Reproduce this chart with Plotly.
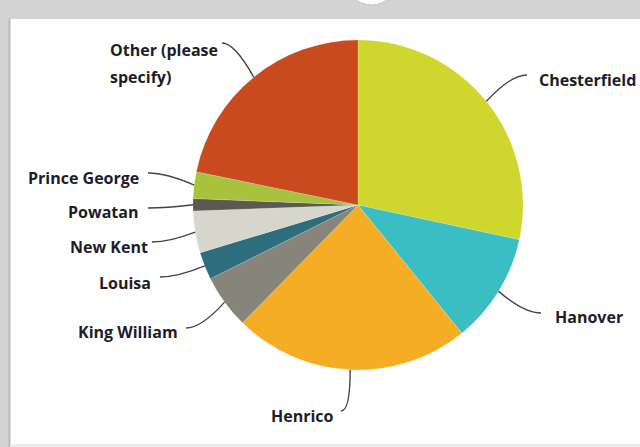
import math
import plotly.graph_objects as go

# ---- data ----
counties = ["Chesterfield", "Hanover", "Henrico", "King William", "Louisa",
            "New Kent", "Powatan", "Prince George", "Other (please specify)"]
shares = [28.4, 10.8, 23.2, 5.3, 2.7, 4.1, 1.2, 2.6, 21.8]

# ---- styles ----
colors = ["#cfd62e", "#3bbec3", "#f5ae24", "#86857a", "#2c6d7e",
          "#d7d6cc", "#5b5a50", "#a9c23e", "#ca4a20"]
W, H = 640, 447
CX, CY, R = 358, 205, 165
# label text positions (pixels) and anchors
lab_x = [537, 553, 336, 180, 153, 150, 140, 141, 108]
lab_y = [80, 317, 416, 332, 283, 247, 212, 178, 50]
lab_anchor = ["left", "left", "right", "right", "right", "right", "right", "right", "left"]
# leader line end points (pixels) and curve bend factor
end_x = [527, 541, 341, 186, 160, 152, 148, 148, 222]
end_y = [75, 313, 411, 328, 277, 242, 208, 173, 43]
bend = [0.6, 0.6, 0.0, 0.6, 0.6, 0.6, 0.6, 0.6, 0.6]

fig = go.Figure()
fig.add_trace(go.Pie(
    labels=counties, values=shares, sort=False, direction="clockwise", rotation=0,
    marker=dict(colors=colors, line=dict(color="rgba(255,255,255,0.4)", width=0.4)),
    textinfo="none", hoverinfo="label+percent", showlegend=False,
    domain=dict(x=[(CX - R) / W, (CX + R) / W], y=[1 - (CY + R) / H, 1 - (CY - R) / H]),
))

shapes = [
    # background panel
    dict(type="rect", xref="x", yref="y", x0=10, x1=641, y0=19, y1=444,
         fillcolor="white", line=dict(width=0), layer="below"),
    dict(type="line", xref="x", yref="y", x0=9.5, x1=9.5, y0=19, y1=447,
         line=dict(color="#b9b9b9", width=2), layer="below"),
    dict(type="rect", xref="x", yref="y", x0=10, x1=641, y0=444, y1=448,
         fillcolor="#ececec", line=dict(width=0), layer="below"),
    dict(type="circle", xref="x", yref="y", x0=346, x1=397, y0=-46, y1=5,
         fillcolor="white", line=dict(color="#c4c4c4", width=1), layer="below"),
]

total = sum(shares)
cum = 0.0
annotations = []
for i, (name, v) in enumerate(zip(counties, shares)):
    mid = (cum + v / 2) / total * 2 * math.pi
    cum += v
    x0 = CX + R * math.sin(mid)
    y0 = CY - R * math.cos(mid)
    x1, y1 = end_x[i], end_y[i]
    cx = x0 + (x1 - x0) * bend[i]
    cy = y1
    shapes.append(dict(type="path", xref="x", yref="y",
                       path=f"M {x0:.1f},{y0:.1f} Q {cx:.1f},{cy:.1f} {x1},{y1}",
                       line=dict(color="#44444e", width=1.4)))
    font = dict(family="Open Sans", size=16, color="#1d1d29", weight=700)
    if name.startswith("Other"):
        parts = ["Other (please", "specify)"]
        for j, p in enumerate(parts):
            annotations.append(dict(x=lab_x[i], y=lab_y[i] + 27 * j, xref="x", yref="y",
                                    text=p, showarrow=False, xanchor="left",
                                    yanchor="middle", font=font))
    else:
        annotations.append(dict(x=lab_x[i], y=lab_y[i], xref="x", yref="y", text=name,
                                showarrow=False, xanchor=lab_anchor[i],
                                yanchor="middle", font=font))

fig.update_layout(
    width=W, height=H, margin=dict(l=0, r=0, t=0, b=0),
    paper_bgcolor="#d3d3d3", plot_bgcolor="rgba(0,0,0,0)",
    xaxis=dict(range=[0, W], visible=False, fixedrange=True),
    yaxis=dict(range=[H, 0], visible=False, fixedrange=True),
    shapes=shapes, annotations=annotations,
)
fig.write_html("out.html", config={"displayModeBar": False},
               post_script="document.body.style.margin='0';document.body.style.overflow='hidden';")
